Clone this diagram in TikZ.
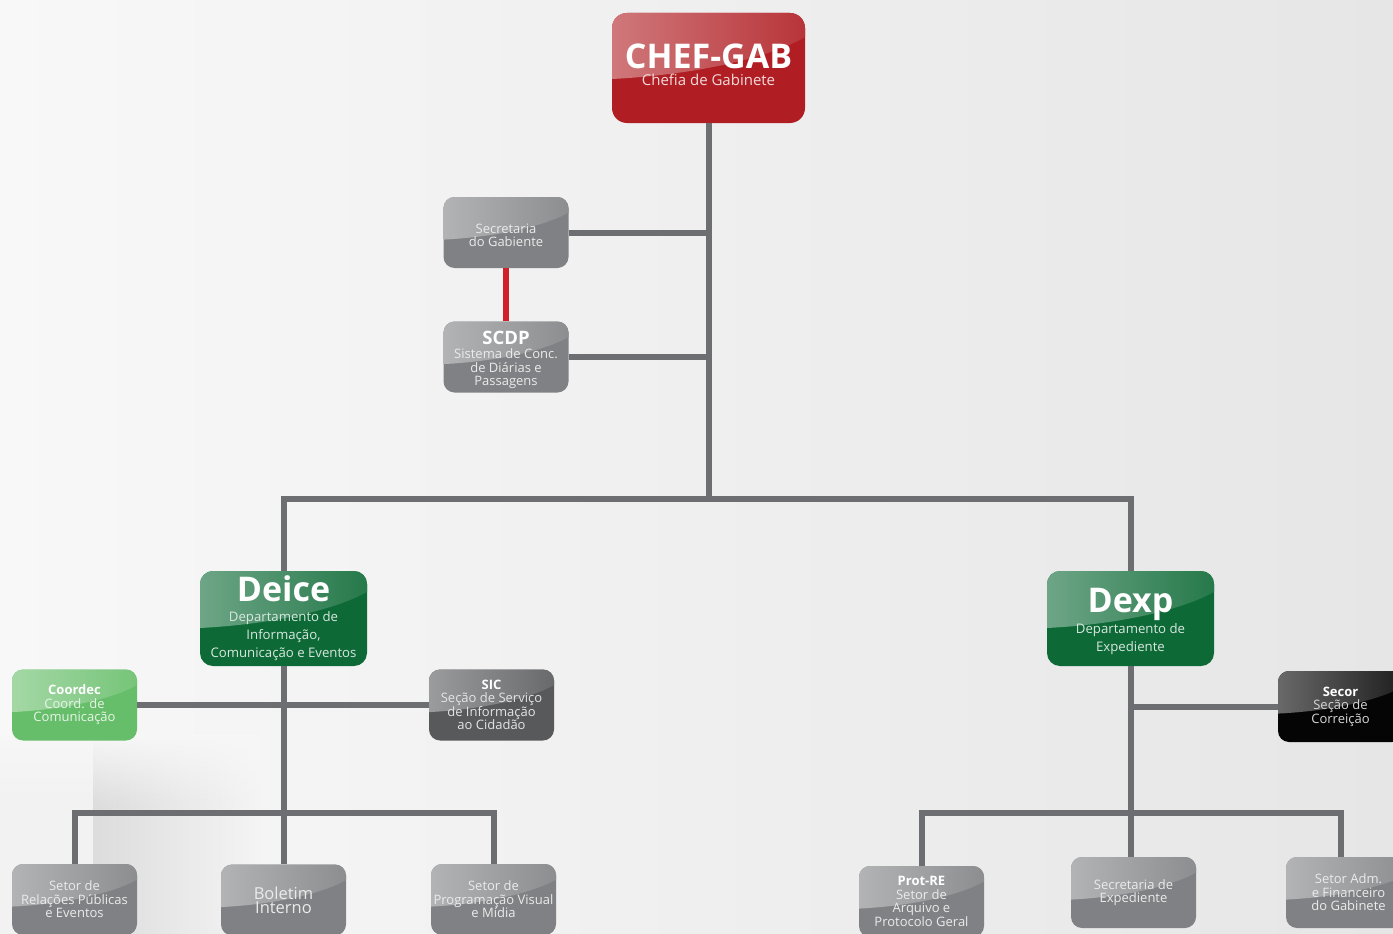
\documentclass[tikz,border=0pt]{standalone}
\usepackage{fontspec}
\setmainfont{Open Sans}
\usetikzlibrary{calc,fadings}

\definecolor{bgleft}{HTML}{F8F8F8}
\definecolor{bgright}{HTML}{E6E6E6}
\definecolor{linkgray}{HTML}{6D6E71}
\definecolor{linkred}{HTML}{D0202A}
\definecolor{chefred}{HTML}{B01E23}
\definecolor{deptgreen}{HTML}{0D6A36}
\definecolor{coordgreen}{HTML}{67BE6A}
\definecolor{unitgray}{HTML}{808184}
\definecolor{sicgray}{HTML}{58595B}
\definecolor{secorblack}{HTML}{050505}

% soft shadow of the wall corner, bottom left
\tikzfading[name=wallfade, left color=transparent!62, right color=transparent!100]
\tikzfading[name=softtop, top color=transparent!0, bottom color=transparent!100]

% bold white heading line inside a box
\newcommand\boxtitle[2]{{\fontsize{#1}{#1}\selectfont\color{white}\bfseries #2}}

\tikzset{
  gloss/.style={path picture={
    \shade[sharp corners, left color=white!40!#1, right color=white!10!#1]
      let \p1=(path picture bounding box.south west),
          \p2=(path picture bounding box.north east),
          \n1={\x2-\x1}, \n2={\y2-\y1} in
      (\x1,\y2) -- (\x2,\y2) -- (\x2,{\y1+0.78*\n2})
      .. controls ({\x1+0.82*\n1},{\y1+0.6*\n2}) and ({\x1+0.45*\n1},{\y1+0.44*\n2})
      .. (\x1,{\y1+0.4*\n2}) -- cycle;}},
  unitbox/.style={rectangle, rounded corners=11pt, fill=#1, gloss=#1,
    text=white!84!#1, align=center, inner sep=0pt,
    minimum width=125pt, minimum height=71pt,
    font=\fontsize{13}{13.5}\selectfont},
  unitbox/.default=unitgray,
  deptbox/.style={unitbox=deptgreen, minimum width=167pt, minimum height=95pt,
    rounded corners=13pt, font=\fontsize{13.2}{18}\selectfont},
  link/.style={draw=linkgray, line width=6pt},
  redlink/.style={draw=linkred, line width=6pt},
}

\begin{document}
\begin{tikzpicture}[x=1pt, y=-1pt]
  % page and background
  \useasboundingbox (0,0) rectangle (1393,934);
  \fill[left color=bgleft, right color=bgright] (0,0) rectangle (1393,934);
  \fill[black!5] (0,740) rectangle (93,934);
  \fill[black!30, path fading=wallfade] (93,740) rectangle (260,934);
  \fill[bgleft!92!bgright, path fading=softtop] (0,735) rectangle (260,805);

  % head office
  \node[unitbox=chefred, minimum width=193pt, minimum height=110pt,
        rounded corners=15pt, font=\fontsize{15}{17}\selectfont] (chef) at (708.5,68)
    {\boxtitle{34}{CHEF-GAB}\\Chefia de Gabinete\rule[-6pt]{0pt}{6pt}};

  % staff units
  \node[unitbox] (sec) at (506,232.5) {\rule{0pt}{15.5pt}Secretaria\\do Gabiente};
  \node[unitbox] (scdp) at (506,357)
    {\rule{0pt}{19pt}\boxtitle{18.5}{SCDP}\\[1pt]Sistema de Conc.\\de Diárias e\\Passagens};

  % departments
  \node[deptbox] (deice) at (283.5,618.5)
    {\boxtitle{34}{Deice}\\[2pt]Departamento de\\Informação,\\Comunicação e Eventos};
  \node[deptbox] (dexp) at (1130.5,618.5)
    {\rule{0pt}{30pt}\boxtitle{34}{Dexp}\\[2pt]Departamento de\\Expediente};

  % Deice units
  \node[unitbox=coordgreen] (coordec) at (74.5,705)
    {\boxtitle{13}{Coordec}\\Coord. de\\Comunicação};
  \node[unitbox=sicgray] (sic) at (491.5,705)
    {\boxtitle{13}{SIC}\\Seção de Serviço\\de Informação\\ao Cidadão};
  \node[unitbox] (rp) at (74.5,899.5) {Setor de\\Relações Públicas\\e Eventos};
  \node[unitbox, font=\fontsize{16.5}{14}\selectfont] (bol) at (283.5,900) {Boletim\\Interno};
  \node[unitbox] (pv) at (493.5,899.5) {Setor de\\Programação Visual\\e Mídia};

  % Dexp units
  \node[unitbox=secorblack] (secor) at (1340.5,706.5)
    {\boxtitle{13}{Secor}\\Seção de\\Correição};
  \node[unitbox] (prot) at (921.5,901.5)
    {\boxtitle{13}{Prot-RE}\\Setor de\\Arquivo e\\Protocolo Geral};
  \node[unitbox] (secexp) at (1133.5,892.5) {Secretaria de\\Expediente};
  \node[unitbox] (adm) at (1348.5,892.5) {Setor Adm.\\e Financeiro\\do Gabinete};

  % junction points
  \coordinate (hub) at (708.5,499);
  \coordinate (deicebar) at (284,813);
  \coordinate (dexpbar) at (1131,813);
  \coordinate (admdrop) at (1341,813);

  % connectors
  \draw[link] (chef.south) -- (chef.south |- hub);
  \draw[link] (sec.east) -- (sec.east -| hub);
  \draw[link] (scdp.east) -- (scdp.east -| hub);
  \draw[redlink] (sec.south) -- (scdp.north);
  \draw[link] (deice.north) -- (deice.north |- hub) -- (dexp.north |- hub) -- (dexp.north);

  \draw[link] (deice.south) -- (deice.south |- deicebar);
  \draw[link] (coordec.east) -- (sic.west);
  \draw[link] (rp.north) -- (rp.north |- deicebar) -- (pv.north |- deicebar) -- (pv.north);
  \draw[link] (deice.south |- deicebar) -- (bol.north);

  \draw[link] (dexp.south) -- (dexp.south |- secexp.north);
  \draw[link] (secor.west) -- (secor.west -| dexp.south);
  \draw[link] (prot.north) -- (prot.north |- dexpbar) -- (admdrop) -- (admdrop |- adm.north);
\end{tikzpicture}
\end{document}
